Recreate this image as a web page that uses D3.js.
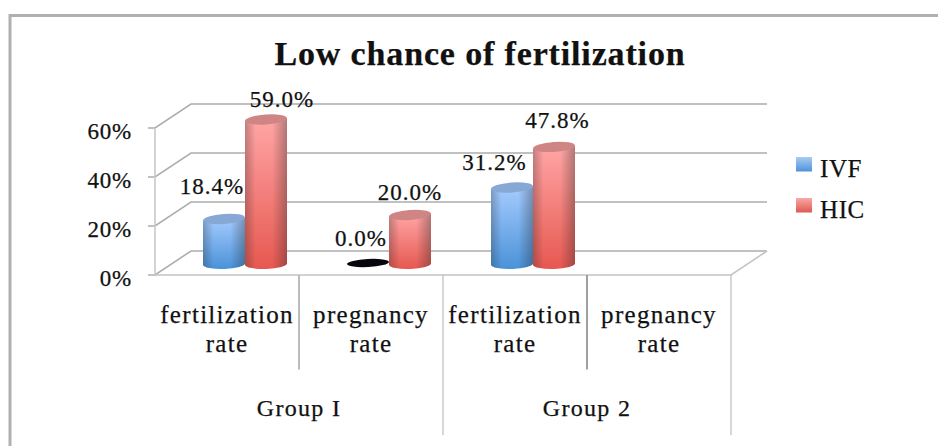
<!DOCTYPE html>
<html><head><meta charset="utf-8">
<script src="https://cdn.jsdelivr.net/npm/d3@7"></script>
<style>html,body{margin:0;background:#fff;overflow:hidden}svg{display:block}text{font-family:"Liberation Serif",serif;fill:#111;stroke:#111;stroke-width:.25px}</style>
</head><body><svg id="c" width="938" height="446"></svg>
<script>
const categories=["fertilization rate","pregnancy rate","fertilization rate","pregnancy rate"];
const groups=["Group I","Group 2"];
const series=["IVF","HIC"];
const ivf=[18.4,0,31.2,null];
const hic=[59,20,47.8,null];
const yTicks=[0,20,40,60];
// hand placement of the value labels relative to each cylinder top
const ivfNudge=[[-12,-25],[-7,-18],[-17.5,-18],null];
const hicNudge=[[16,-12],[0,-15],[3.5,-19],null];

const svg=d3.select("#c");
const W=155,E=731,F0=275,F60=128,dx=36,dy=-24;
const x=d3.scaleBand().domain(d3.range(categories.length)).range([W,E]);
const y=d3.scaleLinear().domain([0,60]).range([F0,F60]);
const defs=svg.append("defs");
function vgrad(id,a,b){const g=defs.append("linearGradient").attr("id",id).attr("x1",0).attr("x2",0).attr("y1",0).attr("y2",1);g.append("stop").attr("offset",0).attr("stop-color",a);g.append("stop").attr("offset",1).attr("stop-color",b);}
vgrad("bBody","#a6ccff","#4a92d8");
vgrad("rBody","#ffa6a6","#e65850");
vgrad("bLeg","#a8ccf4","#4f92da");
vgrad("rLeg","#fba8a4","#dc5a52");
const side=defs.append("linearGradient").attr("id","edge");
[[0,.28],[.25,0],[.65,0],[1,.34]].forEach(s=>side.append("stop").attr("offset",s[0]).attr("stop-color","#222").attr("stop-opacity",s[1]));

svg.append("path").attr("fill","none").attr("stroke","#b0b0b0").attr("stroke-width",3)
  .attr("d",d3.line()([[10,446],[10,15.5],[938,15.5]]));

svg.append("text").attr("x",480).attr("y",65).attr("text-anchor","middle").attr("font-weight","bold").attr("font-size",34).style("letter-spacing","0.85px").text("Low chance of fertilization");

const grid="#adadad";
yTicks.forEach(t=>{
  svg.append("path").attr("fill","none").attr("stroke",grid).attr("stroke-width",1.6)
    .attr("d",d3.line()([[W-7,y(t)],[W,y(t)],[W+dx,y(t)+dy],[E+dx,y(t)+dy]]));
  svg.append("text").attr("x",132).attr("y",y(t)+11).attr("text-anchor","end").attr("font-size",23).style("letter-spacing",".8px").text(t+"%");
});
svg.append("path").attr("fill","none").attr("stroke","#c8c8c8").attr("stroke-width",1.6).attr("d",d3.line()([[W,y(60)],[W,F0]]));
svg.append("path").attr("fill","none").attr("stroke","#c4c4c4").attr("stroke-width",1.6).attr("d",d3.line()([[W-7,F0],[E,F0],[E+dx,F0+dy]]));

d3.range(1,categories.length+1).forEach(i=>{
  const px=x(0)+i*x.step();
  const even=i%2===0;
  svg.append("line").attr("x1",px).attr("x2",px).attr("y1",F0).attr("y2",even?435:369.5)
    .attr("stroke",even?"#bdbdbd":(i===1?"#bbbbbb":"#a0a0a0")).attr("stroke-width",even?1.2:2);
});
categories.forEach((c,i)=>{
  const cx=x(i)+x.bandwidth()/2;
  const t=svg.append("text").attr("text-anchor","middle").attr("font-size",25).style("letter-spacing","1.3px");
  const p=c.split(" ");
  t.append("tspan").attr("x",cx).attr("y",323).text(p[0]);
  t.append("tspan").attr("x",cx).attr("y",352).text(p[1]);
});
groups.forEach((g,i)=>{
  svg.append("text").attr("x",x(i*2)+x.step()).attr("y",416).attr("text-anchor","middle").attr("font-size",24).style("letter-spacing","1.3px").text(g);
});

const rx=21,ry=5,topTilt=1.5,baseTilt=.8,base=264,off=dx/2;
const h=d3.scaleLinear().domain([0,60]).range([0,F0-F60]);
const fmt=v=>v.toFixed(1)+"%";
function cyl(cx,v,body,top,nudge){
  if(v===null)return;
  const ty=base-h(v);
  const g=svg.append("g");
  if(v===0){
    g.append("ellipse").attr("cx",cx).attr("cy",base-1).attr("rx",rx).attr("ry",4).attr("fill","#06060e").attr("transform",`rotate(-3 ${cx} ${base-1})`);
  } else {
    const d=`M${cx-rx},${ty+topTilt}L${cx-rx},${base+baseTilt}A${rx},${ry} -2 0 0 ${cx+rx},${base-baseTilt}L${cx+rx},${ty-topTilt}Z`;
    g.append("path").attr("d",d).attr("fill",`url(#${body})`);
    g.append("path").attr("d",d).attr("fill","url(#edge)");
    g.append("ellipse").attr("cx",cx).attr("cy",ty).attr("rx",rx).attr("ry",ry).attr("fill",top).attr("transform",`rotate(-4 ${cx} ${ty})`);
  }
  svg.append("text").attr("x",cx+nudge[0]).attr("y",ty+nudge[1]).attr("text-anchor","middle").attr("font-size",23).style("letter-spacing","1px").text(fmt(v));
}
categories.forEach((c,i)=>{
  const cx=x(i)+x.bandwidth()/2+off;
  cyl(cx-rx,ivf[i],"bBody","#87a7d5",ivfNudge[i]);
  cyl(cx+rx,hic[i],"rBody","#d08585",hicNudge[i]);
});

series.forEach((s,i)=>{
  const ly=157+i*41;
  svg.append("rect").attr("x",796).attr("y",ly).attr("width",16).attr("height",14.5).attr("fill",i?"url(#rLeg)":"url(#bLeg)");
  svg.append("text").attr("x",820).attr("y",ly+19.5).attr("font-size",25).style("letter-spacing",".6px").text(s);
});
</script></body></html>
